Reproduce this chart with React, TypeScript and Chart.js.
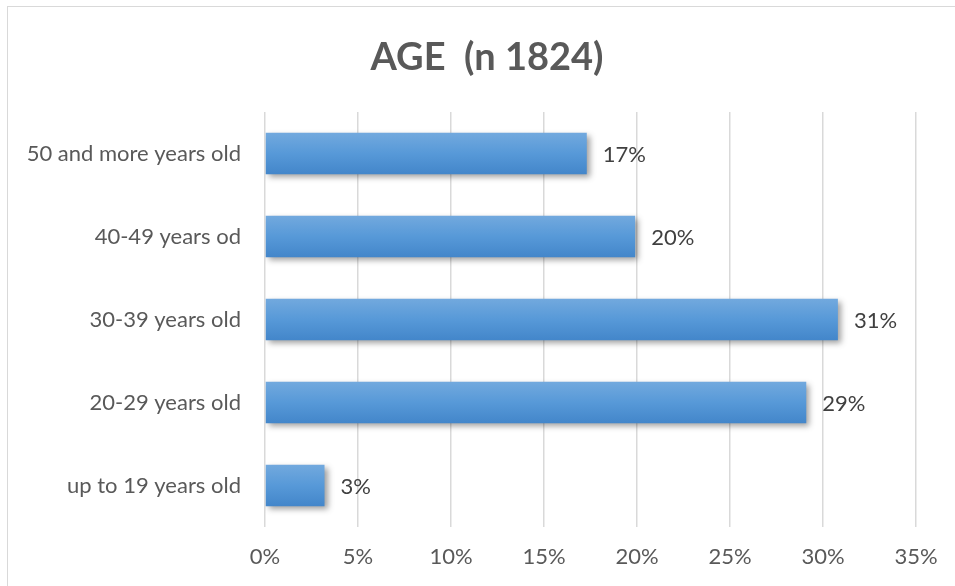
import React, { useEffect, useRef } from "react";
import { Chart, registerables } from "chart.js";

Chart.register(...registerables);

const categories = [
  "50 and more years old",
  "40-49 years od",
  "30-39 years old",
  "20-29 years old",
  "up to 19 years old",
];
const values = [17.3, 19.9, 30.8, 29.1, 3.2];
const valueLabels = ["17%", "20%", "31%", "29%", "3%"];
const titleText = "AGE  (n 1824)";
const axisMax = 35;
const axisStep = 5;

const FONT = "Lato, 'Open Sans', sans-serif";
const TEXT = "#595959";

export default function App() {
  const ref = useRef<HTMLCanvasElement | null>(null);

  useEffect(() => {
    const canvas = ref.current;
    if (!canvas) return;

    const shadowPlugin = {
      id: "barShadow",
      beforeDatasetDraw(chart: any) {
        const ctx = chart.ctx;
        ctx.save();
        ctx.shadowColor = "rgba(0,0,0,0.38)";
        ctx.shadowBlur = 6;
        ctx.shadowOffsetX = 3;
        ctx.shadowOffsetY = 3;
      },
      afterDatasetDraw(chart: any) {
        chart.ctx.restore();
      },
    };

    const labelPlugin = {
      id: "valueLabels",
      afterDatasetsDraw(chart: any) {
        const ctx = chart.ctx;
        const meta = chart.getDatasetMeta(0);
        ctx.save();
        ctx.font = `22px ${FONT}`;
        ctx.fillStyle = "#404040";
        ctx.textAlign = "left";
        ctx.textBaseline = "middle";
        meta.data.forEach((bar: any, i: number) => {
          ctx.fillText(valueLabels[i], bar.x + 16, bar.y + 1);
        });
        ctx.restore();
      },
    };

    const titlePlugin = {
      id: "customTitle",
      afterDraw(chart: any) {
        const ctx = chart.ctx;
        ctx.save();
        ctx.font = `bold 38px ${FONT}`;
        ctx.fillStyle = TEXT;
        ctx.textAlign = "center";
        ctx.textBaseline = "middle";
        ctx.fillText(titleText, 487, 58);
        ctx.restore();
      },
    };

    const chart = new Chart(canvas, {
      type: "bar",
      data: {
        labels: categories,
        datasets: [
          {
            data: values,
            backgroundColor: (c: any) => {
              const ch = c.chart;
              const ys = ch.scales?.y;
              if (!ys) return "#5b9bd5";
              const yc = ys.getPixelForValue(c.dataIndex);
              const h = (ys.height / categories.length) * 0.5;
              if (!isFinite(yc) || !isFinite(h) || h <= 0) return "#5b9bd5";
              const g = ch.ctx.createLinearGradient(0, yc - h / 2, 0, yc + h / 2);
              g.addColorStop(0, "#72a9de");
              g.addColorStop(0.5, "#5799d8");
              g.addColorStop(1, "#4386ca");
              return g;
            },
            borderWidth: 0,
            barPercentage: 0.5,
            categoryPercentage: 1,
          },
        ],
      },
      options: {
        indexAxis: "y",
        animation: false,
        responsive: false,
        maintainAspectRatio: false,
        layout: { padding: { top: 112, right: 39, left: 0, bottom: 0 } },
        plugins: {
          legend: { display: false },
          title: { display: false },
          tooltip: { enabled: false },
        },
        scales: {
          x: {
            min: 0,
            max: axisMax,
            afterFit(s: any) {
              s.height = 59;
            },
            ticks: {
              stepSize: axisStep,
              color: TEXT,
              font: { family: FONT, size: 22 },
              padding: 17,
              callback: (v: any) => `${v}%`,
            },
            grid: {
              color: "#d9d9d9",
              lineWidth: 1.5,
              drawTicks: false,
              tickLength: 0,
            },
            border: { display: false },
          },
          y: {
            afterFit(s: any) {
              s.width = 265;
            },
            ticks: {
              color: TEXT,
              font: { family: FONT, size: 22 },
              padding: 24,
            },
            grid: { display: false, drawTicks: false, tickLength: 0 },
            border: { display: false },
          },
        },
      },
      plugins: [shadowPlugin, labelPlugin, titlePlugin],
    } as any);

    return () => chart.destroy();
  }, []);

  return (
    <div
      style={{
        position: "fixed",
        left: 0,
        top: 0,
        width: 955,
        height: 586,
        overflow: "hidden",
        background: "#fff",
      }}
    >
      <div
        style={{
          position: "absolute",
          left: 7,
          top: 6,
          width: 1000,
          height: 700,
          border: "1px solid #d9d9d9",
          boxSizing: "border-box",
        }}
      />
      <canvas
        ref={ref}
        width={955}
        height={586}
        style={{ position: "absolute", left: 0, top: 0, width: 955, height: 586 }}
      />
    </div>
  );
}
